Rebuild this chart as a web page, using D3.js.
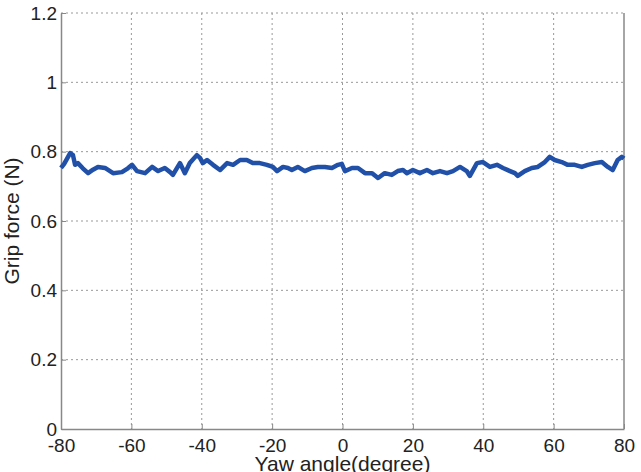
<!DOCTYPE html>
<html>
<head>
<meta charset="utf-8">
<script src="https://cdn.jsdelivr.net/npm/d3@7"></script>
<style>
  body { margin: 0; background: #fff; }
  text { font-family: "Liberation Sans", Arial, sans-serif; fill: #222; }
</style>
</head>
<body>
<div id="chart"></div>
<script>
/********** Data **********/
var yawAngle = [-80, -79.1, -77.4, -76.6, -76, -75.2, -73.8, -72.3, -70.9, -69.5, -67.5, -65.2, -62.7, -61, -59.8, -58.4, -56.1, -54.1, -52.4, -50.5,
  -49, -48.2, -46.2, -44.8, -43.4, -41.4, -40.5, -39.7, -38.5, -36.8, -34.8, -32.8, -31.1, -29.1, -27.2, -25.5, -23.5, -21.5, -19.8, -18.6,
  -16.9, -15.5, -14.4, -12.7, -10.7, -8.7, -7, -5, -3, -1.3, -0.2, 0.7, 2.7, 4.4, 6.4, 8.4, 10.1, 12, 14, 15.7,
  17.2, 18.3, 20, 22, 24, 25.7, 27.7, 29.7, 31.4, 33.4, 35.3, 36.2, 38.2, 39.9, 41.9, 43.9, 45.6, 47.6, 49, 49.8,
  51.8, 53.8, 55.5, 57.5, 58.9, 60.3, 62.3, 64, 66, 68, 69.7, 71.7, 73.7, 75.4, 76.8, 78.2, 79.4, 80]
var gripForce = [0.753, 0.765, 0.796, 0.79, 0.762, 0.767, 0.752, 0.738, 0.748, 0.756, 0.753, 0.738, 0.741, 0.752, 0.762, 0.744, 0.738, 0.756, 0.744, 0.753,
  0.741, 0.733, 0.767, 0.738, 0.767, 0.79, 0.782, 0.767, 0.776, 0.762, 0.747, 0.767, 0.762, 0.776, 0.776, 0.767, 0.767, 0.762, 0.756, 0.744,
  0.756, 0.753, 0.747, 0.756, 0.744, 0.753, 0.756, 0.756, 0.753, 0.762, 0.765, 0.744, 0.753, 0.753, 0.738, 0.738, 0.724, 0.738, 0.733, 0.744,
  0.747, 0.738, 0.747, 0.738, 0.747, 0.738, 0.744, 0.738, 0.744, 0.756, 0.744, 0.73, 0.767, 0.77, 0.756, 0.762, 0.753, 0.744, 0.738, 0.73,
  0.744, 0.753, 0.756, 0.77, 0.785, 0.776, 0.77, 0.762, 0.762, 0.756, 0.762, 0.767, 0.77, 0.756, 0.747, 0.776, 0.785, 0.78]
var xTicks = [-80, -60, -40, -20, 0, 20, 40, 60, 80]
var xTickLabels = ["-80", "-60", "-40", "-20", "0", "20", "40", "60", "80"]
var yTicks = [0, 0.2, 0.4, 0.6, 0.8, 1, 1.2]
var yTickLabels = ["0", "0.2", "0.4", "0.6", "0.8", "1", "1.2"]
var xTitle = "Yaw angle(degree)"
var yTitle = "Grip force (N)"

var lineData = yawAngle.map(function(a, i) { return {angle: a, force: gripForce[i]} })

/********** Layout **********/
var W = 641, H = 472
var margin = {top: 13, right: 17, bottom: 43, left: 61},
    width = W - margin.left - margin.right,
    height = H - margin.top - margin.bottom;

var svg = d3.select("#chart").append("svg")
    .attr("width", W)
    .attr("height", H)
  .append("g")
    .attr("transform", "translate(" + margin.left + "," + margin.top + ")");

var x = d3.scaleLinear().domain([-80, 80]).range([0, width]);
var y = d3.scaleLinear().domain([0, 1.2]).range([height, 0]);

// grid
svg.append("g").selectAll("line.gx")
  .data(xTicks.slice(1, -1))
  .enter().append("line")
    .attr("x1", function(d) { return x(d) }).attr("x2", function(d) { return x(d) })
    .attr("y1", 0).attr("y2", height)
    .attr("stroke", "#999").attr("stroke-width", 1).attr("stroke-dasharray", "2,3");
svg.append("g").selectAll("line.gy")
  .data(yTicks.slice(1))
  .enter().append("line")
    .attr("x1", 0).attr("x2", width)
    .attr("y1", function(d) { return y(d) }).attr("y2", function(d) { return y(d) })
    .attr("stroke", "#999").attr("stroke-width", 1).attr("stroke-dasharray", "2,3");

// axes (ticks pointing inward)
var xAxis = svg.append("g")
  .attr("transform", "translate(0," + height + ")")
  .call(d3.axisBottom(x).tickValues(xTicks).tickSizeInner(-5).tickSizeOuter(0).tickPadding(10)
    .tickFormat(function(d, i) { return xTickLabels[i] }));
var yAxis = svg.append("g")
  .call(d3.axisLeft(y).tickValues(yTicks).tickSizeInner(-5).tickSizeOuter(0).tickPadding(4)
    .tickFormat(function(d, i) { return yTickLabels[i] }));
[xAxis, yAxis].forEach(function(a) {
  a.select(".domain").attr("stroke", "#888").attr("stroke-width", 1.5);
  a.selectAll(".tick line").attr("stroke", "#888");
  a.selectAll(".tick text").style("font-size", "19px").attr("fill", "#222");
});

// right border
svg.append("line")
  .attr("x1", width).attr("x2", width).attr("y1", 0).attr("y2", height)
  .attr("stroke", "#888").attr("stroke-width", 1.5);

// the line
svg.append("path")
  .datum(lineData)
  .attr("fill", "none")
  .attr("stroke", "#2150a8")
  .attr("stroke-width", 4.5)
  .attr("stroke-linejoin", "round")
  .attr("d", d3.line()
    .x(function(d) { return x(d.angle) })
    .y(function(d) { return y(d.force) })
  );

// titles
svg.append("text")
  .attr("x", width / 2)
  .attr("y", height + 42)
  .attr("text-anchor", "middle")
  .style("font-size", "21px")
  .text(xTitle);
svg.append("text")
  .attr("transform", "translate(" + (-42) + "," + (height / 2) + ") rotate(-90)")
  .attr("text-anchor", "middle")
  .style("font-size", "21px")
  .text(yTitle);
</script>
</body>
</html>
